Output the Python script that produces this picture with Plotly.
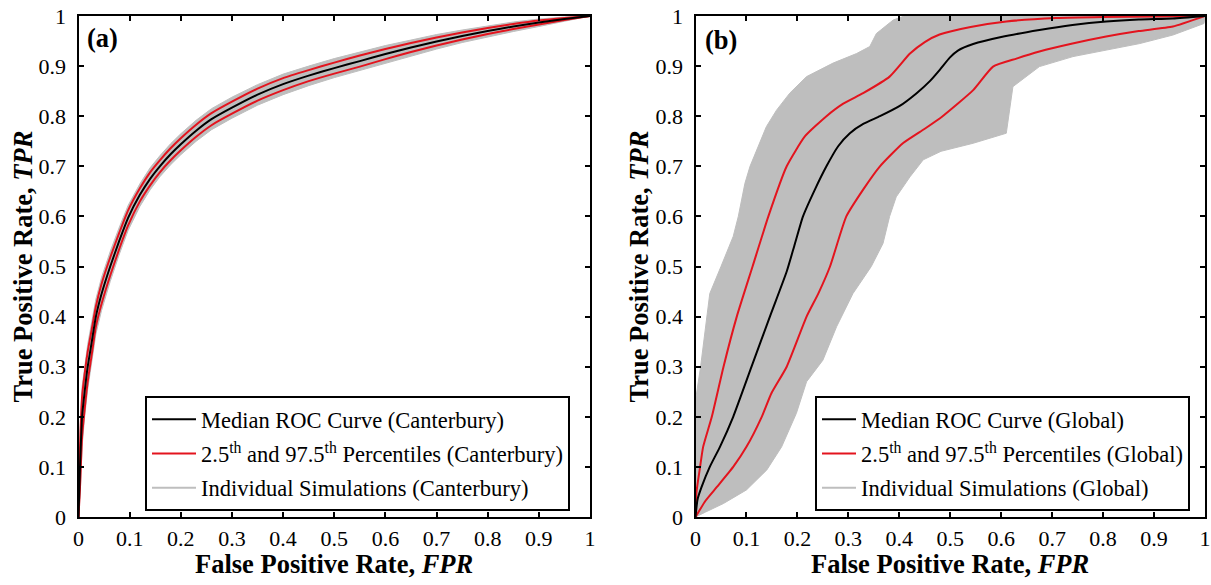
import plotly.graph_objects as go

# ---------------- data: panel (a) Canterbury ----------------
fpr_a = [0, 0.003, 0.007, 0.012, 0.018, 0.026, 0.034, 0.045, 0.062, 0.08, 0.097, 0.12, 0.14,
         0.159, 0.18, 0.2, 0.23, 0.26, 0.3, 0.35, 0.4, 0.45, 0.5, 0.55, 0.6, 0.65, 0.7, 0.75,
         0.8, 0.85, 0.9, 0.95, 1.0]
median_a = [0, 0.10, 0.20, 0.25, 0.30, 0.35, 0.40, 0.445, 0.50, 0.552, 0.597, 0.643, 0.675,
            0.70, 0.724, 0.744, 0.771, 0.794, 0.817, 0.843, 0.864, 0.881, 0.896, 0.91, 0.924,
            0.937, 0.949, 0.96, 0.97, 0.979, 0.987, 0.994, 1.0]
p975_a = [0, 0.14, 0.24, 0.285, 0.33, 0.375, 0.42, 0.465, 0.518, 0.568, 0.612, 0.656, 0.688,
          0.712, 0.736, 0.756, 0.783, 0.806, 0.829, 0.855, 0.876, 0.892, 0.907, 0.921, 0.934,
          0.946, 0.957, 0.967, 0.976, 0.984, 0.991, 0.996, 1.0]
p025_a = [0, 0.06, 0.16, 0.215, 0.27, 0.325, 0.38, 0.425, 0.482, 0.536, 0.582, 0.63, 0.662,
          0.688, 0.712, 0.732, 0.759, 0.782, 0.805, 0.831, 0.852, 0.87, 0.885, 0.899, 0.914,
          0.928, 0.941, 0.953, 0.964, 0.974, 0.983, 0.992, 1.0]
sim_hi_a = [0, 0.17, 0.26, 0.30, 0.345, 0.39, 0.435, 0.478, 0.53, 0.579, 0.622, 0.665, 0.697,
            0.721, 0.745, 0.765, 0.792, 0.815, 0.838, 0.863, 0.884, 0.9, 0.915, 0.928, 0.941,
            0.952, 0.963, 0.972, 0.98, 0.988, 0.994, 0.998, 1.0]
sim_lo_a = [0, 0.04, 0.14, 0.20, 0.255, 0.31, 0.365, 0.412, 0.47, 0.525, 0.572, 0.62, 0.653,
            0.679, 0.703, 0.723, 0.75, 0.773, 0.796, 0.822, 0.843, 0.861, 0.877, 0.892, 0.906,
            0.92, 0.934, 0.947, 0.958, 0.969, 0.979, 0.989, 1.0]

# ---------------- data: panel (b) Global ----------------
med_b_x = [0, 0.004, 0.012, 0.028, 0.048, 0.074, 0.11, 0.146, 0.179, 0.195, 0.211, 0.235,
           0.257, 0.28, 0.303, 0.33, 0.362, 0.40, 0.434, 0.46, 0.479, 0.499, 0.515, 0.545, 0.6,
           0.675, 0.74, 0.806, 0.87, 0.937, 1.0]
med_b_y = [0, 0.035, 0.06, 0.10, 0.14, 0.20, 0.30, 0.40, 0.49, 0.545, 0.60, 0.655, 0.70,
           0.74, 0.766, 0.785, 0.80, 0.82, 0.846, 0.87, 0.892, 0.917, 0.931, 0.944, 0.958, 0.972,
           0.982, 0.989, 0.993, 0.995, 1.0]
p975_b_x = [0, 0.002, 0.009, 0.015, 0.032, 0.055, 0.081, 0.112, 0.143, 0.179, 0.215, 0.257,
            0.29, 0.329, 0.381, 0.421, 0.45, 0.479, 0.54, 0.61, 0.708, 0.8, 0.9, 1.0]
p975_b_y = [0, 0.05, 0.10, 0.14, 0.20, 0.30, 0.40, 0.50, 0.60, 0.70, 0.76, 0.80, 0.825,
            0.846, 0.879, 0.925, 0.948, 0.963, 0.978, 0.989, 0.996, 0.998, 0.999, 1.0]
p025_b_x = [0, 0.02, 0.042, 0.074, 0.10, 0.13, 0.149, 0.179, 0.218, 0.241, 0.264, 0.296,
            0.33, 0.362, 0.407, 0.45, 0.485, 0.545, 0.584, 0.63, 0.675, 0.74, 0.806, 0.87,
            0.937, 1.0]
p025_b_y = [0, 0.033, 0.06, 0.10, 0.14, 0.20, 0.247, 0.30, 0.40, 0.446, 0.50, 0.60, 0.655,
            0.70, 0.746, 0.775, 0.80, 0.852, 0.899, 0.915, 0.929, 0.945, 0.959, 0.97, 0.979,
            1.0]
sim_hi_b_x = [0, 0, 0.01, 0.016, 0.022, 0.028, 0.05, 0.074, 0.084, 0.097, 0.107, 0.126, 0.139,
              0.159, 0.185, 0.218, 0.27, 0.316, 0.342, 0.355, 0.388, 0.41, 1.0]
sim_hi_b_y = [0, 0.233, 0.30, 0.347, 0.40, 0.446, 0.50, 0.56, 0.60, 0.666, 0.70, 0.746, 0.779,
              0.812, 0.846, 0.879, 0.906, 0.925, 0.939, 0.965, 0.992, 1.0, 1.0]
sim_lo_b_x = [0, 0.02, 0.055, 0.1, 0.14, 0.169, 0.198, 0.218, 0.25, 0.277, 0.309, 0.345, 0.368,
              0.381, 0.394, 0.421, 0.447, 0.482, 0.545, 0.61, 0.623, 0.675, 0.741, 0.806, 0.872,
              0.937, 0.998, 1.0]
sim_lo_b_y = [0, 0.01, 0.027, 0.054, 0.094, 0.14, 0.207, 0.27, 0.313, 0.38, 0.446, 0.50, 0.546,
              0.60, 0.639, 0.679, 0.713, 0.73, 0.746, 0.766, 0.859, 0.899, 0.919, 0.932, 0.945,
              0.962, 0.985, 1.0]

tick_vals = [0, 0.1, 0.2, 0.3, 0.4, 0.5, 0.6, 0.7, 0.8, 0.9, 1]
tick_text = ["0", "0.1", "0.2", "0.3", "0.4", "0.5", "0.6", "0.7", "0.8", "0.9", "1"]

FONT = "Liberation Serif"
RED = "#E3141E"
GREY = "#BEBEBE"

fig = go.Figure()


def add_panel(region, xa, ya, legend, sim_x, sim_y, lo_x, lo_y, hi_x, hi_y, mx, my):
    # Individual simulations shown as the envelope they fill
    fig.add_trace(go.Scatter(x=sim_x, y=sim_y, fill="toself", fillcolor=GREY,
                             line=dict(color=GREY, width=1), mode="lines",
                             showlegend=False, hoverinfo="skip", xaxis=xa, yaxis=ya,
                             legendgroup="sim" + xa))
    fig.add_trace(go.Scatter(x=[None], y=[None], mode="lines", line=dict(color=GREY, width=2),
                             name="Individual Simulations (" + region + ")", legend=legend,
                             legendgroup="sim" + xa, legendrank=3, xaxis=xa, yaxis=ya))
    fig.add_trace(go.Scatter(x=lo_x, y=lo_y, mode="lines",
                             line=dict(color=RED, width=2, shape="spline", smoothing=0.5),
                             name="2.5<sup>th</sup> and 97.5<sup>th</sup> Percentiles (" + region + ")",
                             legend=legend, legendgroup="pct" + xa, legendrank=2,
                             xaxis=xa, yaxis=ya))
    fig.add_trace(go.Scatter(x=hi_x, y=hi_y, mode="lines",
                             line=dict(color=RED, width=2, shape="spline", smoothing=0.5),
                             showlegend=False, legendgroup="pct" + xa, xaxis=xa, yaxis=ya))
    fig.add_trace(go.Scatter(x=mx, y=my, mode="lines",
                             line=dict(color="black", width=2, shape="spline", smoothing=0.5),
                             name="Median ROC Curve (" + region + ")", legend=legend,
                             legendgroup="med" + xa, legendrank=1, xaxis=xa, yaxis=ya))


sim_a_x = fpr_a + fpr_a[::-1]
sim_a_y = sim_hi_a + sim_lo_a[::-1]
add_panel("Canterbury", "x", "y", "legend", sim_a_x, sim_a_y, fpr_a, p025_a, fpr_a, p975_a,
          fpr_a, median_a)

sim_b_x = sim_hi_b_x + sim_lo_b_x[::-1]
sim_b_y = sim_hi_b_y + sim_lo_b_y[::-1]
add_panel("Global", "x2", "y2", "legend2", sim_b_x, sim_b_y, p025_b_x, p025_b_y,
          p975_b_x, p975_b_y, med_b_x, med_b_y)

W, H = 1211, 585
ax_common = dict(range=[0, 1], tickmode="array", tickvals=tick_vals, ticktext=tick_text,
                 showgrid=False, zeroline=False, showline=True, linecolor="black",
                 linewidth=2, mirror="ticks", ticks="inside", ticklen=5, tickwidth=1.5,
                 tickcolor="black", tickfont=dict(family=FONT, size=22, color="black"),
                 automargin=False)

y_dom = [(H - 517) / H, (H - 16) / H]
legend_common = dict(xanchor="left", yanchor="top", bgcolor="white", bordercolor="black",
                     borderwidth=2, font=dict(family=FONT, size=22.5, color="black"),
                     traceorder="grouped", tracegroupgap=2)

fig.update_layout(
    width=W, height=H, margin=dict(l=0, r=0, t=0, b=0),
    paper_bgcolor="white", plot_bgcolor="white",
    font=dict(family=FONT, color="black"),
    xaxis=dict(domain=[78.5 / W, 590 / W], anchor="y", ticklabelstandoff=1, **ax_common),
    yaxis=dict(domain=y_dom, anchor="x", ticklabelstandoff=6, **ax_common),
    xaxis2=dict(domain=[695.5 / W, 1205 / W], anchor="y2", ticklabelstandoff=1, **ax_common),
    yaxis2=dict(domain=y_dom, anchor="x2", ticklabelstandoff=6, **ax_common),
    legend=dict(x=145 / W, y=(H - 396) / H, itemwidth=44, **legend_common),
    legend2=dict(x=815 / W, y=(H - 396) / H, itemwidth=34, **legend_common),
)

title_font = dict(family=FONT, size=26.5, color="black")
annotations = [
    dict(text="<b>False Positive Rate, <i>FPR</i></b>", x=(78.5 + 590) / 2 / W, y=(H - 564) / H),
    dict(text="<b>False Positive Rate, <i>FPR</i></b>", x=(695.5 + 1205) / 2 / W, y=(H - 564) / H),
    dict(text="<b>True Positive Rate, <i>TPR</i></b>", x=22 / W, y=(H - 266.5) / H, textangle=-90),
    dict(text="<b>True Positive Rate, <i>TPR</i></b>", x=638 / W, y=(H - 266.5) / H, textangle=-90),
    dict(text="<b>(a)</b>", x=103 / W, y=(H - 38) / H),
    dict(text="<b>(b)</b>", x=721 / W, y=(H - 40) / H),
]
for a in annotations:
    fig.add_annotation(xref="paper", yref="paper", xanchor="center", yanchor="middle",
                       showarrow=False, font=title_font, **a)

fig.write_html("out.html")
